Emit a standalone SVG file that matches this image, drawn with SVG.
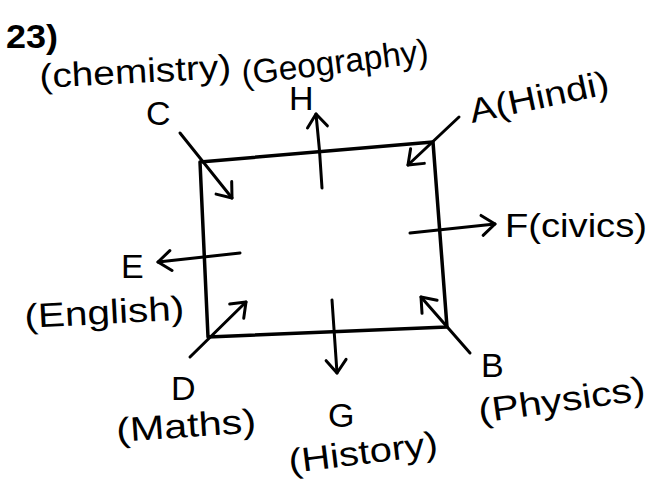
<svg xmlns="http://www.w3.org/2000/svg" width="651" height="493" viewBox="0 0 651 493">
<style>
.ln{fill:none;stroke:#000;stroke-width:3.5;stroke-linecap:round;stroke-linejoin:round}
.ar{fill:none;stroke:#000;stroke-width:3;stroke-linecap:round;marker-end:url(#v)}
text{font-family:"Liberation Sans","DejaVu Sans",sans-serif;fill:#000;font-size:34px}
</style>
<defs>
<marker id="v" markerUnits="userSpaceOnUse" viewBox="-16 -14 18 28" refX="0" refY="0" markerWidth="18" markerHeight="28" orient="auto">
<path d="M-13,-10 L0,0 L-13,10" fill="none" stroke="#000" stroke-width="3" stroke-linecap="round" stroke-linejoin="round"/>
</marker>
</defs>
<rect width="651" height="493" fill="#fff"/>
<g id="title"><text x="6" y="48" font-size="28" font-weight="bold" textLength="52" lengthAdjust="spacingAndGlyphs">23)</text></g>
<g id="box"><path class="ln" d="M200,162 L433,142 Q440,235 447,327 L208,337 Z"/></g>
<g id="connectors">
<path class="ar" d="M180,133 L232,198"/>
<path class="ar" d="M322,188 Q320,150 316,114"/>
<path class="ar" d="M459,117 L408,165"/>
<path class="ar" d="M410,233 L495,224"/>
<path class="ar" d="M240,253 L158,262"/>
<path class="ar" d="M190,357 L246,302"/>
<path class="ar" d="M332,300 L337,373"/>
<path class="ar" d="M470,353 L421,297"/>
</g>
<g id="nodeC">
<text x="40" y="88" textLength="192" lengthAdjust="spacingAndGlyphs" transform="rotate(-3 40 88)">(chemistry)</text>
<text x="146" y="125" font-size="30">C</text>
</g>
<g id="nodeH">
<text x="243" y="85" textLength="188" lengthAdjust="spacingAndGlyphs" transform="rotate(-7 243 85)">(Geography)</text>
<text x="289" y="110" font-size="28">H</text>
</g>
<g id="nodeA"><text x="472" y="123" textLength="142" lengthAdjust="spacingAndGlyphs" transform="rotate(-12 472 123)">A(Hindi)</text></g>
<g id="nodeF"><text x="505" y="237" textLength="142" lengthAdjust="spacingAndGlyphs">F(civics)</text></g>
<g id="nodeE">
<text x="121" y="278">E</text>
<text x="25" y="328" textLength="160" lengthAdjust="spacingAndGlyphs" transform="rotate(-3 25 328)">(English)</text>
</g>
<g id="nodeD">
<text x="171" y="400">D</text>
<text x="117" y="442" textLength="140" lengthAdjust="spacingAndGlyphs" transform="rotate(-4 117 442)">(Maths)</text>
</g>
<g id="nodeG">
<text x="328" y="427">G</text>
<text x="290" y="473" textLength="150" lengthAdjust="spacingAndGlyphs" transform="rotate(-7 290 473)">(History)</text>
</g>
<g id="nodeB">
<text x="481" y="377">B</text>
<text x="480" y="423" textLength="168" lengthAdjust="spacingAndGlyphs" transform="rotate(-8 480 423)">(Physics)</text>
</g>
</svg>
